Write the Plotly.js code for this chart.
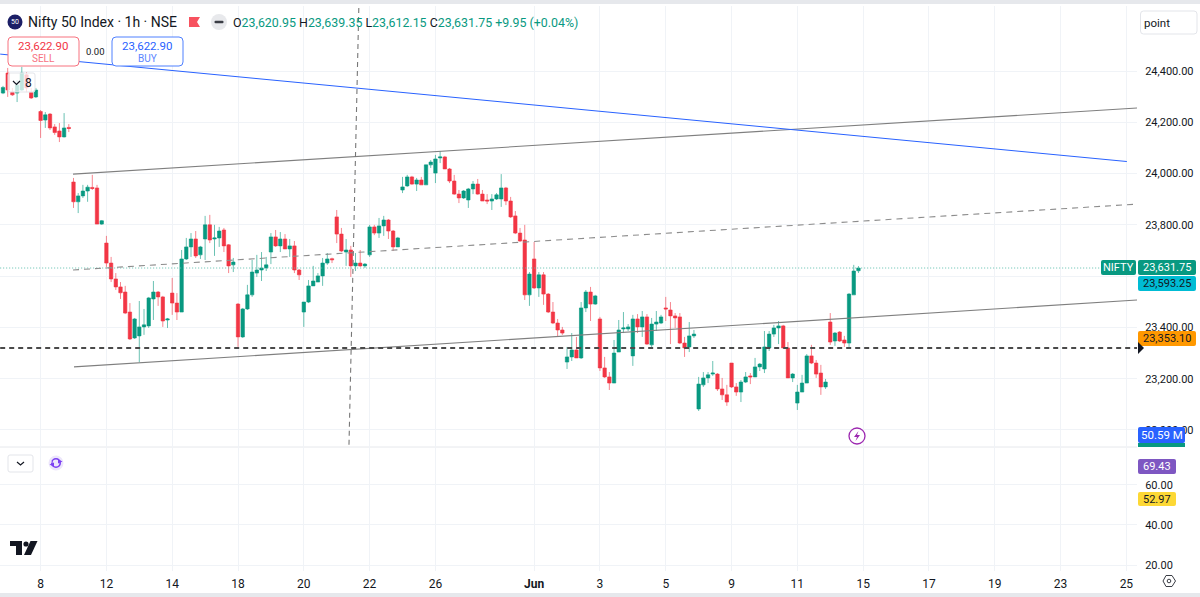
<!DOCTYPE html>
<html><head><meta charset="utf-8">
<script src="https://cdn.plot.ly/plotly-3.0.1.min.js"></script>
<style>html,body{margin:0;padding:0;background:#fff;overflow:hidden}#c{width:1200px;height:597px}</style>
</head><body><div id="c"></div>
<script>
// ---- hourly candles ----
const open =[24314,24392,24318,24314,24326,24385,24316,24299,24242,24209,24232,24182,24166,24143,24180,
23967,23890,23913,23932,23946,23944,23803,23729,23651,23589,23558,23538,23460,23359,23367,23402,23406,23511,23538,23519,23429,23534,23495,23460,23667,23714,23745,23683,23745,23800,23745,23749,23780,23722,23644,
23491,23363,23472,23527,23612,23624,23632,23694,23753,23718,23745,23706,23718,23624,23460,23499,23562,23577,23601,23651,23668,23831,23764,23694,23702,23640,23651,23640,23683,23792,23768,23796,23819,23776,23714,
23936,23952,23987,23959,23975,23956,24034,24002,24061,24065,24018,23971,23920,23905,23897,23940,23959,23920,23897,23893,23901,23901,23944,23893,23835,23768,23741,23527,23667,23554,23605,23530,23460,23417,23390,
23265,23285,23312,23281,23476,23538,23491,23433,23242,23207,23183,23304,23394,23394,23289,23433,23402,23441,23332,23413,23417,23476,23468,23445,23441,23339,23324,23367,
23082,23176,23203,23218,23218,23160,23137,23261,23168,23148,23187,23211,23207,23246,23238,23320,23374,23398,23406,23320,23203,23105,23148,23183,23289,23261,23222,23168,
23421,23347,23382,23351,23339,23527,23620.95];
const high =[24342,24412,24334,24365,24416,24396,24334,24334,24248,24240,24236,24193,24197,24236,24193,
23983,23924,23956,23956,23995,23956,23819,23757,23675,23612,23577,23562,23495,23437,23503,23472,23519,23581,23542,23523,23437,23593,23534,23702,23749,23768,23776,23718,23835,23839,23800,23792,23788,23725,23671,
23495,23476,23566,23663,23683,23694,23675,23768,23780,23772,23764,23745,23737,23628,23499,23585,23640,23612,23671,23690,23672,23858,23788,23745,23718,23690,23702,23651,23800,23800,23827,23835,23823,23780,23753,
23987,23995,23991,23983,23987,24034,24053,24073,24088,24069,24022,23995,23936,23936,23944,23971,23979,23936,23920,23920,23924,23998,23948,23909,23854,23788,23800,23616,23733,23616,23616,23534,23499,23433,23402,
23324,23378,23363,23499,23546,23558,23527,23441,23285,23226,23351,23429,23460,23413,23449,23452,23464,23452,23437,23464,23449,23519,23499,23456,23456,23363,23421,23390,
23207,23226,23226,23269,23222,23203,23176,23261,23183,23195,23226,23222,23281,23261,23386,23386,23410,23425,23410,23343,23222,23176,23215,23296,23332,23273,23254,23199,
23456,23382,23386,23367,23534,23644,23639.35];
const low  =[24310,24299,24303,24279,24322,24318,24291,24295,24139,24178,24170,24151,24123,24141,24162,
23866,23846,23905,23890,23936,23803,23800,23636,23577,23546,23511,23452,23351,23355,23265,23371,23398,23429,23484,23402,23398,23449,23429,23460,23663,23675,23671,23667,23663,23729,23679,23714,23694,23612,23616,
23324,23359,23468,23519,23597,23581,23620,23647,23714,23694,23706,23675,23612,23585,23402,23495,23562,23577,23562,23644,23651,23729,23694,23640,23597,23620,23636,23632,23675,23760,23749,23757,23745,23698,23714,
23924,23948,23956,23932,23956,23956,24022,23963,24041,24018,23963,23917,23885,23901,23866,23920,23917,23893,23881,23858,23897,23870,23877,23827,23764,23733,23507,23484,23550,23519,23488,23456,23413,23363,23371,
23238,23269,23281,23277,23460,23425,23488,23230,23203,23156,23183,23304,23378,23386,23250,23378,23363,23332,23316,23386,23413,23425,23335,23398,23335,23285,23304,23359,
23074,23168,23183,23211,23152,23117,23094,23164,23133,23109,23183,23179,23207,23230,23222,23308,23363,23335,23320,23203,23187,23078,23148,23183,23257,23203,23137,23160,
23332,23328,23343,23324,23324,23527,23612.15];
const close=[24336,24326,24307,24345,24392,24334,24295,24326,24207,24229,24178,24160,24143,24178,24176,
23890,23913,23932,23947,23942,23803,23816,23651,23589,23558,23535,23456,23355,23433,23402,23410,23515,23538,23519,23425,23433,23495,23460,23667,23714,23745,23679,23714,23800,23741,23749,23776,23718,23640,23655,
23363,23472,23527,23616,23624,23632,23644,23753,23718,23745,23706,23718,23624,23605,23499,23562,23581,23601,23651,23667,23664,23764,23698,23702,23640,23651,23640,23647,23792,23768,23796,23819,23776,23714,23749,
23948,23987,23959,23975,23956,24034,24045,24057,24065,24018,23971,23920,23905,23932,23940,23959,23920,23893,23893,23901,23917,23944,23893,23831,23768,23737,23527,23608,23554,23605,23530,23460,23417,23390,23378,
23285,23312,23281,23476,23538,23491,23523,23242,23207,23183,23300,23390,23398,23402,23433,23402,23441,23335,23413,23421,23441,23472,23445,23437,23339,23320,23367,23374,
23179,23203,23215,23222,23160,23137,23109,23168,23148,23187,23207,23207,23246,23257,23324,23374,23398,23406,23320,23203,23218,23148,23183,23289,23261,23218,23168,23187,
23343,23378,23347,23339,23530,23620,23631.75];

// ---- axis ticks ----
const timeTickBars =[8,22,36,50,64,78,92,113,127,141,155,169,183,197,211,225,239];
const timeTickText =["8","12","14","18","20","22","26","<b>Jun</b>","3","5","9","11","15","17","19","23","25"];
const priceTicks   =[24400,24200,24000,23800,23600,23400,23200,23000];
const priceTickText=["24,400.00","24,200.00","24,000.00","23,800.00","","23,400.00","23,200.00","23,000.00"];
const rsiTicks     =[60,40,20];
const rsiTickText  =["60.00","40.00","20.00"];

// ---- drawings (bar index / price) ----
const channelUpperX=[14.9,241.3],  channelUpperY=[23998,24256];
const channelMidX  =[14.9,241.3],  channelMidY  =[23624,23881];
const channelLowX  =[15.1,241.3],  channelLowY  =[23246,23507];
const blueLineX    =[-0.6,239.1],  blueLineY    =[24466,24047];
const levelX       =[-0.6,241.5],  levelY       =[23320,23320];
const crossX       =[75.7,73.6],   crossY       =[24646,22934];
const lastPriceX   =[-0.6,233.6],  lastPriceY   =[23631.75,23631.75];

const GREEN='#089981',RED='#f23645',BLUE='#2962ff',INK='#131722',GRID='#f0f3f7',FONT='Roboto, sans-serif';

// page-pixel helpers for the interface furniture around the plot
const L=0,R=1137,T=6,B=571;
const fx=x=>(x-L)/(R-L), fy=y=>1-(y-T)/(B-T);
const rect=(x0,y0,x1,y1,fill,line,lw,layer)=>({type:'rect',xref:'paper',yref:'paper',x0:fx(x0),x1:fx(x1),y0:fy(y0),y1:fy(y1),fillcolor:fill,line:{color:line||fill,width:lw==null?0:lw},layer:layer||'above'});
const rrect=(x0,y0,x1,y1,r,fill,line,lw)=>{
  const P=(x,y)=>fx(x)+' '+fy(y);
  return {type:'path',xref:'paper',yref:'paper',layer:'above',fillcolor:fill,line:{color:line||fill,width:lw||0},
   path:'M'+P(x0+r,y0)+' L'+P(x1-r,y0)+' Q'+P(x1,y0)+' '+P(x1,y0+r)+' L'+P(x1,y1-r)+' Q'+P(x1,y1)+' '+P(x1-r,y1)+' L'+P(x0+r,y1)+' Q'+P(x0,y1)+' '+P(x0,y1-r)+' L'+P(x0,y0+r)+' Q'+P(x0,y0)+' '+P(x0+r,y0)+' Z'};
};
const circ=(cx,cy,r,fill,line,lw)=>({type:'circle',xref:'paper',yref:'paper',x0:fx(cx-r),x1:fx(cx+r),y0:fy(cy-r),y1:fy(cy+r),fillcolor:fill,line:{color:line||fill,width:lw||0},layer:'above'});
const poly=(pts,fill,line,lw,closed=true)=>({type:'path',xref:'paper',yref:'paper',path:pts.map((p,i)=>(i?'L':'M')+fx(p[0])+' '+fy(p[1])).join(' ')+(closed?' Z':''),fillcolor:fill,line:{color:line||fill,width:lw||0},layer:'above'});
const txt=(t,x,y,size,color,anchor,extra)=>Object.assign({xref:'paper',yref:'paper',x:fx(x),y:fy(y),text:t,showarrow:false,xanchor:anchor||'left',yanchor:'middle',font:{family:FONT,size:size,color:color},borderpad:0,borderwidth:0},extra||{});

const lineTrace=(x,y,color,width,dash)=>({type:'scatter',mode:'lines',x,y,line:{color,width,dash:dash||'solid'},hoverinfo:'skip',xaxis:'x',yaxis:'y',showlegend:false,cliponaxis:true});

const data=[
 lineTrace(lastPriceX,lastPriceY,'#5fbfae',1,'1px,2px'),
 lineTrace(channelMidX,channelMidY,'#8c8c8c',1.1,'6px,5px'),
 {type:'candlestick',x:open.map((_,i)=>i),open,high,low,close,xaxis:'x',yaxis:'y',whiskerwidth:0,hoverinfo:'skip',showlegend:false,
  increasing:{line:{color:'rgba(8,153,129,0.6)',width:1},fillcolor:GREEN},
  decreasing:{line:{color:'rgba(242,54,69,0.6)',width:1},fillcolor:RED}},
 lineTrace(channelUpperX,channelUpperY,'#7f7f7f',1.1),
 lineTrace(channelLowX,channelLowY,'#7f7f7f',1.1),
 lineTrace(blueLineX,blueLineY,BLUE,1),
 lineTrace(levelX,levelY,'#4a4a4a',2,'5px,4px'),
 lineTrace(crossX,crossY,'#777777',1.1,'5px,4px'),
 {type:'scatter',mode:'lines',x:[],y:[],xaxis:'x2',yaxis:'y2',showlegend:false,hoverinfo:'skip'}
];

const shapes=[
 rect(0,0,1200,4,'#e6e8ec'),
 rect(0,593,1200,597,'#e6e8ec'),
 rect(0,566,1137,572,'#ffffff',null,0,'below'),
 rect(1138,569,1200,592,'#ffffff'),
 // price tags
 rrect(1101,260,1136,275,2,GREEN),
 rrect(1138,260,1196,275,2,GREEN),
 rrect(1138,276,1196,291,2,'#00bcd4'),
 rrect(1138,331,1196,346,2,'#ff9800'),
 poly([[1138,342],[1144,348],[1138,354]],'#131722'),
 rect(1138,443,1185,447,GREEN),
 rrect(1138,427,1185,443,2,BLUE),
 rrect(1138,459,1176,474,2,'#7e57c2'),
 rrect(1138,492,1176,506,2,'#fdd835'),
 // interface boxes
 rrect(8,37,79,66,4,'#ffffff','#f7727f',1),
 rrect(112,37,183,66,4,'#ffffff','#4f80ff',1),
 rrect(8,73,35,92,2,'rgba(255,255,255,0.75)','#e3e5ea',1),
 rrect(8,455,33,472,2,'#ffffff','#e3e5ea',1),
 rrect(1140.5,11,1197,34,3,'#ffffff','#e3e5ea',1),
 // logo, flag, collapse
 circ(15,22,7.5,'#1c1f66'),
 poly([[189,17],[200,17],[197,22],[200,27],[189,27]],'#f7525f'),
 circ(219,22,8,'#e8e9ec'),
 rrect(214.5,20.7,223.5,23.3,1,'#3a3d45'),
 // chevrons
 poly([[13,81],[16.5,84.5],[20,81]],'rgba(0,0,0,0)',INK,1.2,false),
 poly([[17,462],[20.5,465],[24,462]],'rgba(0,0,0,0)',INK,1.2,false),
 // refresh badge
 circ(56,463,7.5,'#ece6fb'),
 circ(56,463,4.2,'rgba(0,0,0,0)','#7b3ff2',1.6),
 poly([[58,459.2],[62.5,461.5],[58,463.5]],'#7b3ff2'),
 poly([[54,462.5],[49.5,464.5],[54,466.8]],'#7b3ff2'),
 rect(50,461.6,52,462.4,'#ece6fb'),
 // flash badge
 circ(857,436,8,'#ffffff','#9c27b0',1.3),
 poly([[858.5,431],[854,437],[857,437],[855.5,441],[860,435],[857,435]],'#9c27b0'),
 // mark
 poly([[10,541],[22,541],[22,555],[16,555],[16,546],[10,546]],'#131722'),
 circ(26,544,2.6,'#131722'),
 poly([[30.5,541],[37.5,541],[31,555],[24,555]],'#131722'),
 // settings
 poly([[1163,581],[1166,575.5],[1172,575.5],[1175.5,581],[1172,586.5],[1166,586.5]],'#ffffff','#3a3d45',1),
 circ(1169,581,1.8,'#ffffff','#3a3d45',1)
];

const V='<span style="color:#089981">';
const annotations=[
 txt('50',15,22.3,7,'#ffffff','center'),
 txt('Nifty 50 Index · 1h · NSE',28,22.5,14,INK),
 txt('O'+V+'23,620.95</span> H'+V+'23,639.35</span> L'+V+'23,612.15</span> C'+V+'23,631.75 +9.95 (+0.04%)</span>',233,22.5,12.4,INK),
 txt('23,622.90',43.5,46,11.5,RED,'center'),
 txt('SELL',43.5,58,10,'#f7727f','center'),
 txt('0.00',95,51,9.5,INK,'center'),
 txt('23,622.90',147.5,46,11.5,BLUE,'center'),
 txt('BUY',147.5,58,10,'#5c86ff','center'),
 txt('8',28,82.5,12,INK,'center'),
 txt('point',1143.5,23,11.5,INK),
 txt('NIFTY',1118.5,267.7,11,'#ffffff','center'),
 txt('23,631.75',1167,267.7,11,'#ffffff','center'),
 txt('23,593.25',1167,283.7,11,INK,'center'),
 txt('23,353.10',1167,338.7,11,INK,'center'),
 txt('50.59 M',1161.5,435.2,11.5,'#ffffff','center'),
 txt('69.43',1157,466.7,11,'#ffffff','center'),
 txt('52.97',1157,499.2,11,INK,'center')
];

const axisCommon={showline:false,zeroline:false,ticks:'',gridcolor:GRID,gridwidth:1};
const layout={
 width:1200,height:597,margin:{l:0,r:1200-R,t:T,b:597-B,pad:0},
 paper_bgcolor:'#ffffff',plot_bgcolor:'#ffffff',showlegend:false,hovermode:false,dragmode:false,
 boxgap:0.15,boxgroupgap:0.15,
 xaxis:Object.assign({},axisCommon,{range:[-0.638,241.26],domain:[0,1],anchor:'y',rangeslider:{visible:false},tickmode:'array',tickvals:timeTickBars,ticktext:timeTickText.map(()=>''),showticklabels:false}),
 xaxis2:Object.assign({},axisCommon,{matches:'x',domain:[0,1],anchor:'y2',tickmode:'array',tickvals:timeTickBars,ticktext:timeTickText,showticklabels:true,tickfont:{family:FONT,size:12,color:INK},ticks:'outside',ticklen:2,tickcolor:'#ffffff'}),
 yaxis:Object.assign({},axisCommon,{domain:[0.2195,1],range:[22933.7,24653.6],side:'right',anchor:'x',tickmode:'array',tickvals:priceTicks,ticktext:priceTickText,tickfont:{family:FONT,size:11,color:INK},ticks:'outside',ticklen:5,tickcolor:'#ffffff'}),
 yaxis2:Object.assign({},axisCommon,{domain:[0,0.2195],range:[17,79],side:'right',anchor:'x2',tickmode:'array',tickvals:rsiTicks,ticktext:rsiTickText,tickfont:{family:FONT,size:11,color:INK},ticks:'outside',ticklen:5,tickcolor:'#ffffff'}),
 shapes:shapes.concat([{type:'line',xref:'paper',yref:'paper',x0:0,x1:1,y0:fy(447),y1:fy(447),line:{color:'#e6e8ec',width:1},layer:'below'}]),
 annotations
};
Plotly.newPlot('c',data,layout,{displayModeBar:false,staticPlot:true,responsive:false});
</script></body></html>
